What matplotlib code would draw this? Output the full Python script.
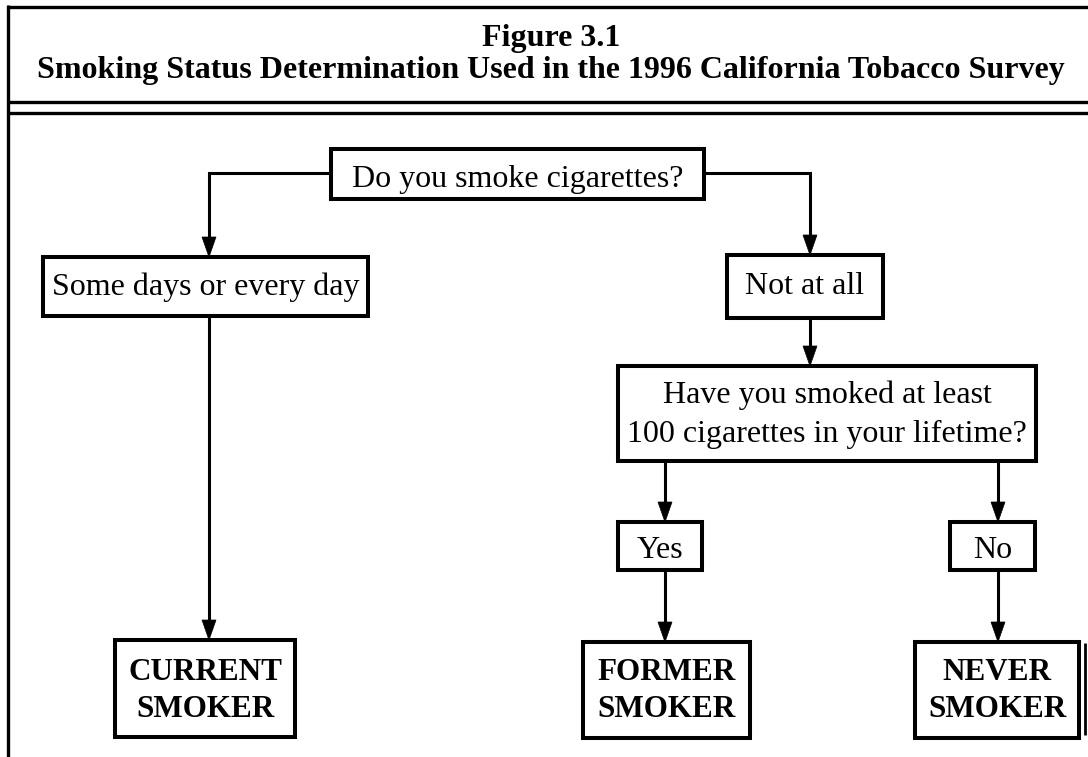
import matplotlib.pyplot as plt
from matplotlib.patches import Rectangle, Polygon

plt.rcParams['font.family'] = ['Liberation Serif', 'DejaVu Serif']

# texts of the chart
title_lines = ['Figure 3.1',
               'Smoking Status Determination Used in the 1996 California Tobacco Survey']
question1 = ['Do you smoke cigarettes?']
answers1 = [['Some days or every day'], ['Not at all']]
question2 = ['Have you smoked at least', '100 cigarettes in your lifetime?']
answers2 = [['Yes'], ['No']]
results = [['CURRENT', 'SMOKER'], ['FORMER', 'SMOKER'], ['NEVER', 'SMOKER']]

# layout in pixel units: (left, top, right, bottom, first baseline, line step)
layout = {
    'q1': (331, 149, 704, 199, 187, 0),
    'a1_0': (43, 257, 368, 316, 295, 0),
    'a1_1': (727, 255, 883, 318, 294, 0),
    'q2': (618, 366, 1036, 461, 403, 39),
    'a2_0': (618, 522, 702, 570, 558, 0),
    'a2_1': (950, 522, 1035, 570, 558, 0),
    'r_0': (115, 640, 295, 737, 680, 37),
    'r_1': (583, 642, 750, 738, 680, 37),
    'r_2': (915, 642, 1079, 738, 680, 37),
}

fig = plt.figure(figsize=(10.88, 7.57), dpi=100)
ax = fig.add_axes([0, 0, 1, 1])
ax.set_xlim(0, 1088)
ax.set_ylim(757, 0)
ax.axis('off')

LW = 2.2
BOX_LW = 2.9


def box(key, lines, bold=False):
    x0, y0, x1, y1, base, step = layout[key]
    ax.add_patch(Rectangle((x0, y0), x1 - x0, y1 - y0, fill=False,
                           ec='black', lw=BOX_LW, joinstyle='miter'))
    for i, t in enumerate(lines):
        ax.text((x0 + x1) / 2, base + i * step, t, ha='center', va='baseline',
                fontsize=22.4 if bold else 23, fontweight='bold' if bold else 'normal')


def arrow(pts):
    # pts: path of the connector, last point is the arrow tip
    xs = [p[0] for p in pts]
    ys = [p[1] for p in pts]
    tx, ty = pts[-1]
    ys[-1] = ty - 15
    ax.plot(xs, ys, color='black', lw=LW, solid_joinstyle='miter',
            solid_capstyle='butt')
    ax.add_patch(Polygon([(tx - 7, ty - 20), (tx + 7, ty - 20), (tx, ty)],
                         closed=True, fc='black', ec='black', lw=0.5))


# frame
ax.plot([7.5, 1088], [6.5, 6.5], color='black', lw=2.4, solid_capstyle='butt')
ax.plot([7.5, 7.5], [5, 757], color='black', lw=2.4, solid_capstyle='butt')
ax.plot([7.5, 1088], [102, 102], color='black', lw=2.4, solid_capstyle='butt')
ax.plot([7.5, 1088], [113, 113], color='black', lw=2.4, solid_capstyle='butt')
ax.plot([1085, 1085], [643, 735], color='black', lw=2.0, solid_capstyle='butt')

ax.text(551, 46, title_lines[0], ha='center', va='baseline',
        fontsize=23, fontweight='bold')
ax.text(551, 78, title_lines[1], ha='center', va='baseline',
        fontsize=23, fontweight='bold')

box('q1', question1)
box('a1_0', answers1[0])
box('a1_1', answers1[1])
box('q2', question2)
box('a2_0', answers2[0])
box('a2_1', answers2[1])
for i, r in enumerate(results):
    box('r_%d' % i, r, bold=True)

arrow([(331, 173), (209, 173), (209, 257)])
arrow([(704, 173), (810, 173), (810, 255)])
arrow([(209, 316), (209, 640)])
arrow([(810, 318), (810, 366)])
arrow([(665, 461), (665, 522)])
arrow([(998, 461), (998, 522)])
arrow([(665, 570), (665, 642)])
arrow([(998, 570), (998, 642)])

fig.savefig('out.png', dpi=100, facecolor='white')
